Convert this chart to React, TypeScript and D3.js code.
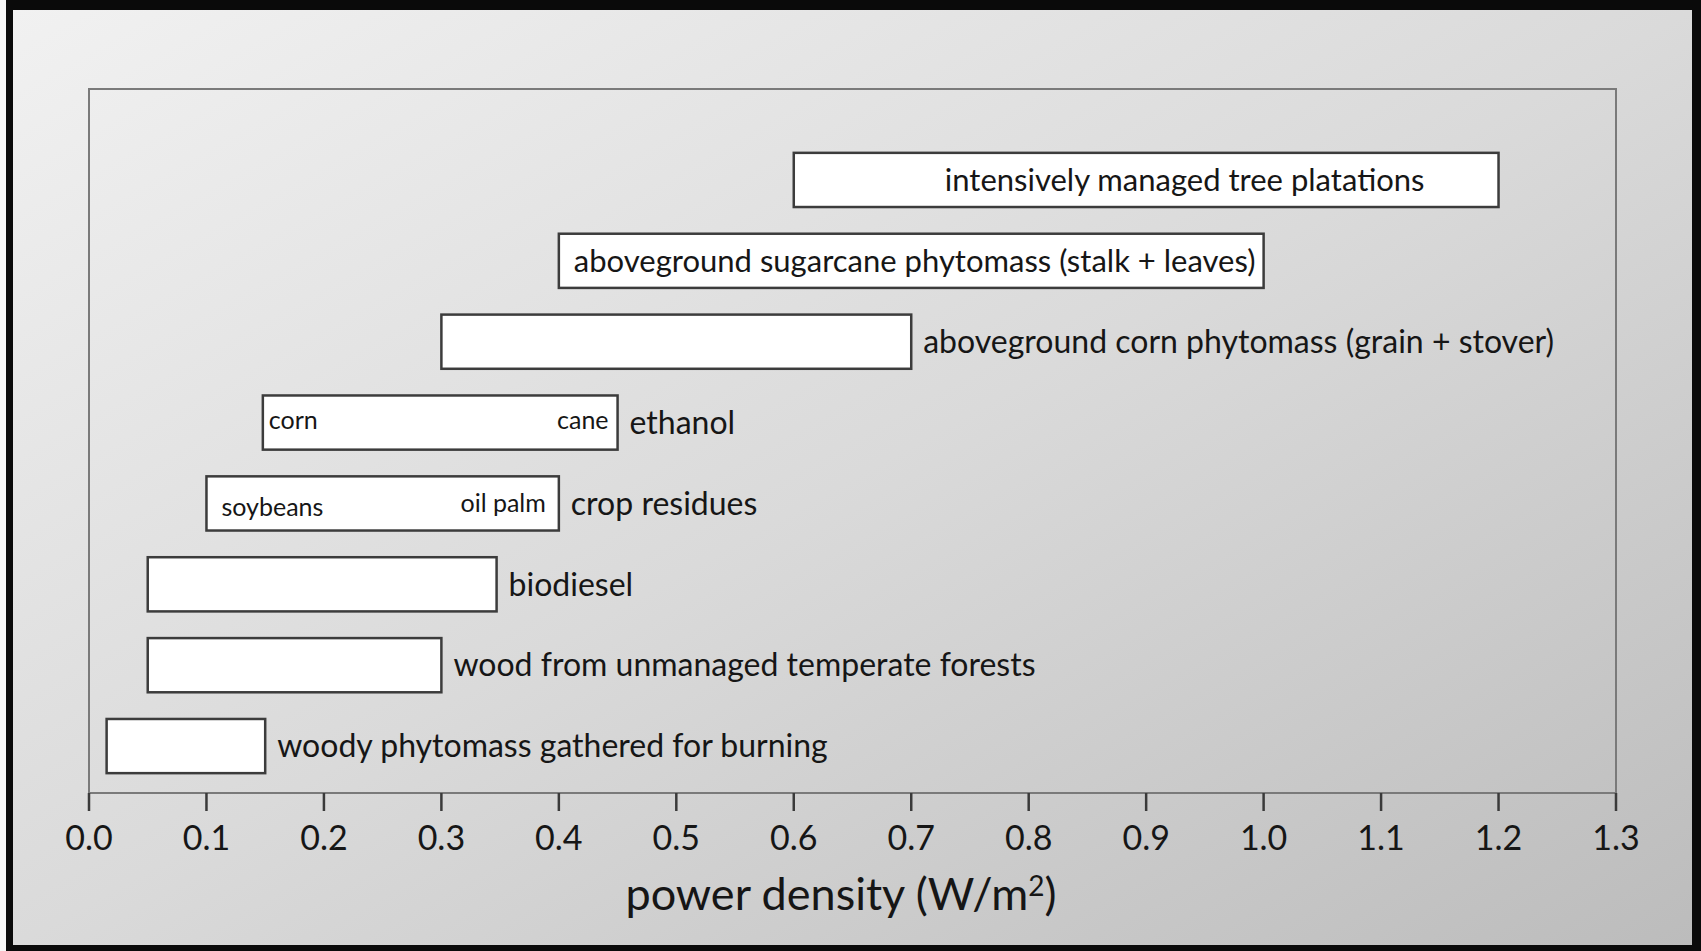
import * as d3 from 'd3';

const W = 1701;
const H = 951;

const categories = [
  'intensively managed tree platations',
  'aboveground sugarcane phytomass (stalk + leaves)',
  'aboveground corn phytomass (grain + stover)',
  'ethanol',
  'crop residues',
  'biodiesel',
  'wood from unmanaged temperate forests',
  'woody phytomass gathered for burning',
];
const lowValues = [0.6, 0.4, 0.3, 0.148, 0.1, 0.05, 0.05, 0.015];
const highValues = [1.2, 1.0, 0.7, 0.45, 0.4, 0.347, 0.3, 0.15];
const insideLabel = [true, true, false, false, false, false, false, false];
const lowEndLabels = ['', '', '', 'corn', 'soybeans', '', '', ''];
const highEndLabels = ['', '', '', 'cane', 'oil palm', '', '', ''];
const tickValues = [0, 0.1, 0.2, 0.3, 0.4, 0.5, 0.6, 0.7, 0.8, 0.9, 1.0, 1.1, 1.2, 1.3];

const FONT = 'Lato, "Open Sans", sans-serif';
const INK = '#161616';

export default function App() {
  const plot = { left: 89, right: 1616, top: 89, bottom: 793 };
  const x = d3.scaleLinear().domain([0, 1.3]).range([plot.left, plot.right]);
  const y = d3.scaleBand<string>()
    .domain(categories)
    .range([139.5, 786.5])
    .paddingInner(0.33)
    .paddingOuter(0.165);
  const fmt = d3.format('.1f');

  return (
    <div style={{ position: 'absolute', left: 0, top: 0 }}>
      <svg width={W} height={H} style={{ display: 'block' }}>
        <defs>
          <linearGradient id="bg" x1="0" y1="0" x2="1" y2="1">
            <stop offset="0" stopColor="#f1f1f1" />
            <stop offset="0.5" stopColor="#dadada" />
            <stop offset="1" stopColor="#bcbcbc" />
          </linearGradient>
        </defs>
        <rect x={0} y={0} width={W} height={H} fill="#f6f6f6" />
        <rect x={6} y={0} width={W - 6} height={H} fill="#0a0a0a" />
        <rect x={13} y={10} width={1692 - 13} height={945 - 10} fill="url(#bg)" />

        {/* plot frame */}
        <rect
          x={plot.left}
          y={plot.top}
          width={plot.right - plot.left}
          height={plot.bottom - plot.top}
          fill="none"
          stroke="#7a7a7a"
          strokeWidth={2}
        />

        {/* ticks */}
        {tickValues.map((t) => (
          <g key={t} transform={`translate(${x(t)},0)`}>
            <line y1={plot.bottom} y2={plot.bottom + 18} stroke="#3a3a3a" strokeWidth={2.5} />
            <text
              y={850}
              textAnchor="middle"
              fontFamily={FONT}
              fontSize={34}
              fill={INK}
            >
              {fmt(t)}
            </text>
          </g>
        ))}

        {/* bars */}
        {categories.map((c, i) => {
          const x0 = x(lowValues[i]);
          const x1 = x(highValues[i]);
          const y0 = y(c)!;
          const bh = y.bandwidth();
          const cy = y0 + bh / 2;
          return (
            <g key={c}>
              <rect
                x={x0}
                y={y0}
                width={x1 - x0}
                height={bh}
                fill="#ffffff"
                stroke="#3c3c3c"
                strokeWidth={2.5}
              />
              {insideLabel[i] ? (
                <text
                  x={i === 0 ? x1 - 74 : x0 + 15}
                  y={cy}
                  dy="0.35em"
                  textAnchor={i === 0 ? 'end' : 'start'}
                  fontFamily={FONT}
                  fontSize={31}
                  fill={INK}
                >
                  {c}
                </text>
              ) : (
                <text
                  x={x1 + 12}
                  y={cy}
                  dy="0.35em"
                  fontFamily={FONT}
                  fontSize={32}
                  fill={INK}
                >
                  {c}
                </text>
              )}
              {lowEndLabels[i] && (
                <text
                  x={x0 + (i === 4 ? 15 : 6)}
                  y={cy + (i === 4 ? 4 : -2)}
                  dy="0.35em"
                  fontFamily={FONT}
                  fontSize={25}
                  fill={INK}
                >
                  {lowEndLabels[i]}
                </text>
              )}
              {highEndLabels[i] && (
                <text
                  x={x1 - (i === 4 ? 13 : 9)}
                  y={cy + (i === 4 ? 0 : -2)}
                  dy="0.35em"
                  textAnchor="end"
                  fontFamily={FONT}
                  fontSize={25}
                  fill={INK}
                >
                  {highEndLabels[i]}
                </text>
              )}
            </g>
          );
        })}

        {/* axis title */}
        <text
          x={841}
          y={910}
          textAnchor="middle"
          fontFamily={FONT}
          fontSize={45}
          fill={INK}
        >
          power density (W/m
          <tspan fontSize={28} dy={-14}>2</tspan>
          <tspan dy={14}>)</tspan>
        </text>
      </svg>
    </div>
  );
}
